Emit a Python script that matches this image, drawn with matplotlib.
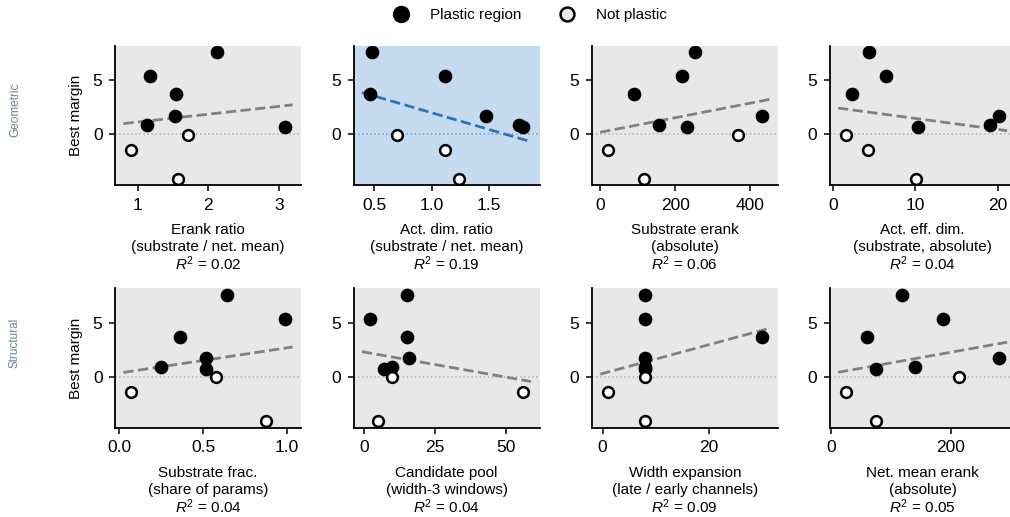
import numpy as np
import matplotlib
matplotlib.use("Agg")
import matplotlib.pyplot as plt
from matplotlib.ticker import MaxNLocator
from matplotlib.lines import Line2D

plt.rcParams['font.family'] = ['Liberation Sans', 'DejaVu Sans']
plt.rcParams['mathtext.fontset'] = 'custom'
plt.rcParams['mathtext.it'] = 'Liberation Sans:italic'
plt.rcParams['mathtext.rm'] = 'Liberation Sans'

# ---- data ----
margin = [7.6, 5.35, 3.7, 1.7, 0.88, 0.68, -0.05, -1.42, -4.12]
plastic = [True, True, True, True, True, True, False, False, False]

erank_ratio = [2.12, 1.17, 1.54, 1.53, 1.14, 3.08, 1.71, 0.91, 1.57]
act_dim_ratio = [0.48, 1.12, 0.46, 1.47, 1.76, 1.80, 0.70, 1.12, 1.24]
substrate_erank = [252, 219, 91, 430, 158, 231, 368, 21, 116]
act_eff_dim = [4.35, 6.4, 2.37, 20.15, 19.0, 10.35, 1.57, 4.3, 10.07]
substrate_frac = [0.64, 0.987, 0.36, 0.518, 0.25, 0.518, 0.58, 0.072, 0.877]
candidate_pool = [15, 2, 15, 16, 10, 7, 10, 56, 5]
width_expansion = [8, 8, 30, 8, 8, 8, 8, 1, 8]
net_mean_erank = [119, 187, 60, 281, 141, 76, 214, 25, 76]

features = [erank_ratio, act_dim_ratio, substrate_erank, act_eff_dim,
            substrate_frac, candidate_pool, width_expansion, net_mean_erank]
names = ["Erank ratio", "Act. dim. ratio", "Substrate erank", "Act. eff. dim.",
         "Substrate frac.", "Candidate pool", "Width expansion", "Net. mean erank"]
subtitles = ["(substrate / net. mean)", "(substrate / net. mean)", "(absolute)",
             "(substrate, absolute)", "(share of params)", "(width-3 windows)",
             "(late / early channels)", "(absolute)"]
r2_values = [0.02, 0.19, 0.06, 0.04, 0.04, 0.04, 0.09, 0.05]
row_names = ["Geometric", "Structural"]

# ---- layout ----
W, H = 1010, 517
fig = plt.figure(figsize=(W / 100, H / 100), dpi=100)
lefts = [115, 353.5, 591.8, 829.6]
tops = [45.7, 288.3]
aw, ah = 186, 139.4
PX = 0.72  # points per pixel

y = np.array(margin)
pl = np.array(plastic)
best = int(np.argmax(r2_values))
steps = [1, 2, 2.5, 5, 10]

for i, xv in enumerate(features):
    r, c = divmod(i, 4)
    ax = fig.add_axes([lefts[c] / W, 1 - (tops[r] + ah) / H, aw / W, ah / H])
    hl = (i == best)
    ax.set_facecolor('#c6dbef' if hl else '#e8e8e8')
    x = np.array(xv, dtype=float)
    lc = '#2f74b5' if hl else '#808080'
    zc = '#6fa0d0' if hl else '#b0b0b0'
    k, b = np.polyfit(x, y, 1)
    pad = 0.05 * (x.max() - x.min())
    xs = np.array([x.min() - pad, x.max() + pad])
    ax.plot(xs, k * xs + b, ls='--', color=lc, lw=2, zorder=2)
    ax.axhline(0, ls=':', color=zc, lw=1.1, zorder=1)
    ax.scatter(x[pl], y[pl], s=75, c='black', edgecolors='black', linewidths=1.2, zorder=3)
    ax.scatter(x[~pl], y[~pl], s=60, c='white', edgecolors='black', linewidths=1.8, zorder=3)
    ax.xaxis.set_major_locator(MaxNLocator(3, steps=steps))
    ax.yaxis.set_major_locator(MaxNLocator(3, steps=steps))
    for s in ['top', 'right']:
        ax.spines[s].set_visible(False)
    for s in ['left', 'bottom']:
        ax.spines[s].set_linewidth(1.3)
    ax.tick_params(labelsize=12.5, width=1.1, length=4.5, pad=4.5)
    lines = [names[i], subtitles[i], "$R^2$ = %.2f" % r2_values[i]]
    for j, (txt, off) in enumerate(zip(lines, [45, 62, 79])):
        ax.annotate(txt, xy=(0.5, 0), xycoords='axes fraction',
                    xytext=(0, -off * PX), textcoords='offset points',
                    ha='center', va='center', fontsize=11)
    if c == 0:
        ax.set_ylabel("Best margin", fontsize=11, labelpad=7)

for r, name in enumerate(row_names):
    yc = [110, 343][r]
    fig.text(15 / W, 1 - yc / H, name, rotation=90, ha='center', va='center',
             fontsize=8.5, color='#6b8396')

handles = [Line2D([], [], marker='o', ls='none', markersize=11.5, markerfacecolor='black',
                  markeredgecolor='black'),
           Line2D([], [], marker='o', ls='none', markersize=10, markerfacecolor='#ebebeb',
                  markeredgecolor='black', markeredgewidth=1.8)]
fig.legend(handles, ["Plastic region", "Not plastic"], loc='center',
           bbox_to_anchor=(526 / W, 1 - 15 / H), ncol=2, frameon=False, fontsize=11,
           columnspacing=2.0, handletextpad=0.9)

fig.savefig("out.png", dpi=100)
